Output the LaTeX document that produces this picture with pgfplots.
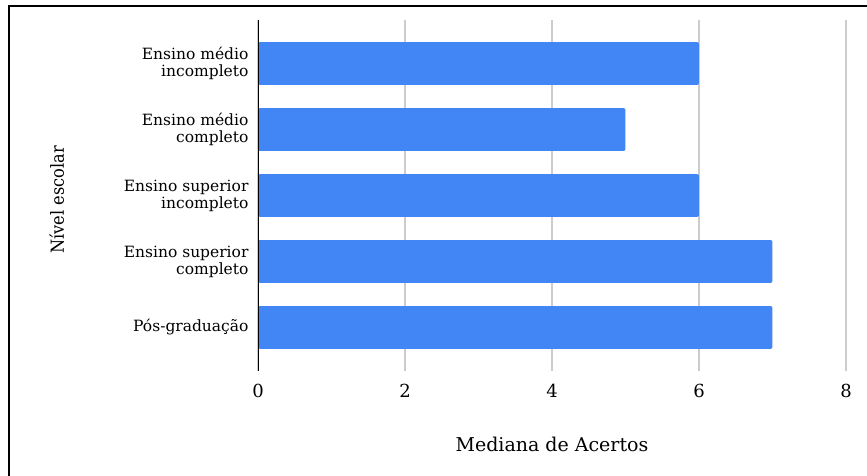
\documentclass[border=0pt]{standalone}
\usepackage{pgfplots}
\pgfplotsset{compat=1.18}
\usepackage{fontspec}
\setmainfont{DejaVu Serif}
\newfontfamily\condfont{DejaVu Serif Condensed}
\definecolor{barblue}{HTML}{4285F4}
\definecolor{gridgray}{HTML}{CCCCCC}
\begin{document}
\begin{tikzpicture}[x=1pt,y=1pt]
\useasboundingbox (0,0) rectangle (867,476);
\fill[white] (0,0) rectangle (867,476);
\begin{axis}[
  at={(258pt,105pt)}, anchor=south west,
  scale only axis, width=588pt, height=351pt,
  xmin=0, xmax=8, ymin=-0.66, ymax=4.66,
  xbar, bar width=0.65,
  xtick={0,2,4,6,8},
  ytick={0,1,2,3,4},
  yticklabels={Pós-graduação, {Ensino superior\\completo}, {Ensino superior\\incompleto}, {Ensino médio\\completo}, {Ensino médio\\incompleto}},
  yticklabel style={align=right, font=\fontsize{15.5}{17}\selectfont, xshift=-6pt},
  xticklabel style={font=\fontsize{18}{20}\selectfont, yshift=-10pt},
  /pgf/number format/assume math mode=true,
  major tick length=0pt,
  axis line style={draw=none},
  xmajorgrids, grid style={gridgray, line width=1.5pt},
  xlabel={Mediana de Acertos},
  xlabel style={at={(axis description cs:0.5,0)}, anchor=center, yshift=-73pt, font=\fontsize{19}{21}\selectfont},
  ylabel={Nível escolar},
  ylabel style={at={(axis description cs:-0.342,0.487)}, anchor=center, font=\condfont\fontsize{18}{20}\selectfont},
]
\addplot[fill=barblue, draw=none, rounded corners=2pt] coordinates {(7,0) (7,1) (6,2) (5,3) (6,4)};
\draw[black, line width=1.6pt] (axis cs:0,-0.66) -- (axis cs:0,4.66);
\end{axis}
\draw[black, line width=2pt] (9,-2) -- (9,470) -- (869,470);
\end{tikzpicture}
\end{document}
